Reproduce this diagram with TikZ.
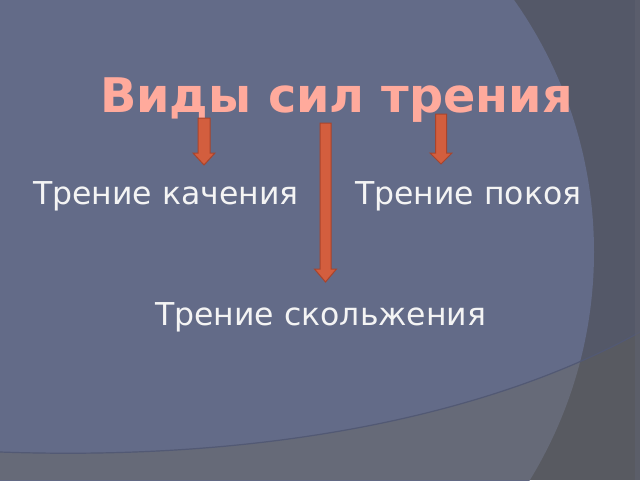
\documentclass[tikz,border=0pt]{standalone}
\usepackage{fontspec}
\setmainfont{DejaVu Sans}
\usetikzlibrary{calc}
\definecolor{bgdark}{RGB}{84,88,104}
\definecolor{bgblue}{RGB}{99,107,136}
\definecolor{banddark}{RGB}{88,90,97}
\definecolor{bandblue}{RGB}{102,106,120}
\definecolor{bandline}{RGB}{82,89,116}
\definecolor{stripcol}{RGB}{94,97,111}
\definecolor{titlecol}{RGB}{255,170,156}
\definecolor{bodycol}{RGB}{244,244,244}
\definecolor{arrfill}{RGB}{211,94,62}
\definecolor{arrdraw}{RGB}{168,68,44}
\newcommand\blockarrow[5]{%
  \draw[blockarr] ($(#1)+(-#3,0)$) -- ($(#1)+(#3,0)$) -- ($(#2)+(#3,-#5)$) -- ($(#2)+(#4,-#5)$) -- (#2) -- ($(#2)+(-#4,-#5)$) -- ($(#2)+(-#3,-#5)$) -- cycle;}
\begin{document}
\begin{tikzpicture}[x=1pt,y=-1pt,
  titletext/.style={inner sep=0pt, text=titlecol, font=\fontsize{47.7}{57}\selectfont\bfseries},
  bodytext/.style={inner sep=0pt, text=bodycol, font=\fontsize{31.5}{38}\selectfont},
  blockarr/.style={fill=arrfill, draw=arrdraw, line width=1pt, line join=miter}]
\useasboundingbox (0,0) rectangle (640,480);
% background
\fill[bgdark] (0,0) rectangle (640,480);
\fill[bgblue] (157,252) circle[radius=437];
\begin{scope}
  \clip (0,452) .. controls (280,462) and (500,410) .. (640,332) -- (640,480) -- (0,480) -- cycle;
  \fill[banddark] (0,0) rectangle (640,480);
  \fill[bandblue] (157,252) circle[radius=437];
\end{scope}
\draw[bandline, line width=1.2pt] (0,452) .. controls (280,462) and (500,410) .. (640,332);
\fill[stripcol, opacity=0.6] (635,0) rectangle (640,480);
% texts
\node[titletext, anchor=base west] (title) at (100,112) {Виды сил трения};
\node[bodytext, anchor=base west] (kach) at (33,204) {Трение качения};
\node[bodytext, anchor=base west] (pok) at (355,204) {Трение покоя};
\node[bodytext, anchor=base west] (skol) at (155,325) {Трение скольжения};
% arrows
\coordinate (a1s) at (204,118);
\coordinate (a1e) at (204,165);
\coordinate (a2s) at (325.5,123);
\coordinate (a2e) at (325.5,282);
\coordinate (a3s) at (441,114);
\coordinate (a3e) at (441,164);
\blockarrow{a1s}{a1e}{6}{11}{12}
\blockarrow{a2s}{a2e}{5.5}{11}{13}
\blockarrow{a3s}{a3e}{5.5}{11}{11}
\end{tikzpicture}
\end{document}
